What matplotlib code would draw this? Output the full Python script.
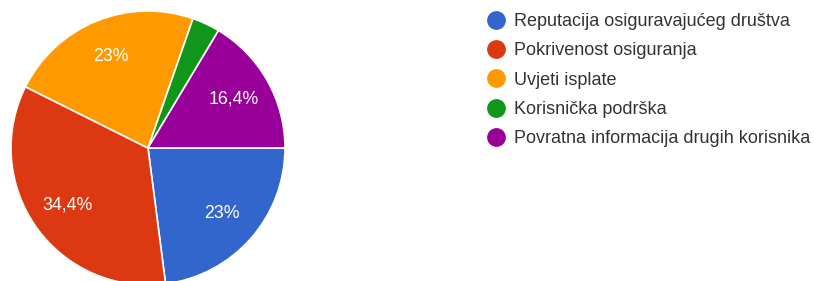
import matplotlib
matplotlib.use("Agg")
import matplotlib.pyplot as plt
from matplotlib.lines import Line2D

categories = ["Reputacija osiguravajućeg društva", "Pokrivenost osiguranja",
              "Uvjeti isplate", "Korisnička podrška",
              "Povratna informacija drugih korisnika"]
counts = [14, 21, 14, 2, 10]
colors = ["#3366CC", "#DC3912", "#FF9900", "#109618", "#990099"]

plt.rcParams['font.family'] = ['Liberation Sans', 'DejaVu Sans']

W, H = 814, 281
fig = plt.figure(figsize=(W / 100, H / 100), dpi=100)

cx, cy, r = 148, 148, 137
ax = fig.add_axes([(cx - r) / W, (H - cy - r) / H, 2 * r / W, 2 * r / H])

def fmt(p):
    if p < 5:
        return ""
    v = round(p, 1)
    s = f"{v:.1f}".rstrip("0").rstrip(".")
    return s.replace(".", ",") + "%"

wedges, texts, autotexts = ax.pie(
    counts, colors=colors, startangle=0, counterclock=False,
    autopct=fmt, pctdistance=0.72,
    wedgeprops=dict(edgecolor="white", linewidth=1.2),
    textprops=dict(color="white", fontsize=12.8))
ax.set_xlim(-1, 1)
ax.set_ylim(-1, 1)
ax.set_aspect("equal")
ax.axis("off")

handles = [Line2D([0], [0], marker="o", linestyle="", markersize=12.5,
                  markerfacecolor=c, markeredgecolor=c) for c in colors]
leg = fig.legend(handles, categories, loc="upper left",
                 bbox_to_anchor=(487 / W, 1 - 13 / H),
                 frameon=False, fontsize=13, handlelength=1.0,
                 handletextpad=0.5, labelspacing=0.68, borderpad=0,
                 borderaxespad=0, labelcolor="#333333")

fig.savefig("out.png", dpi=100, facecolor="white")
